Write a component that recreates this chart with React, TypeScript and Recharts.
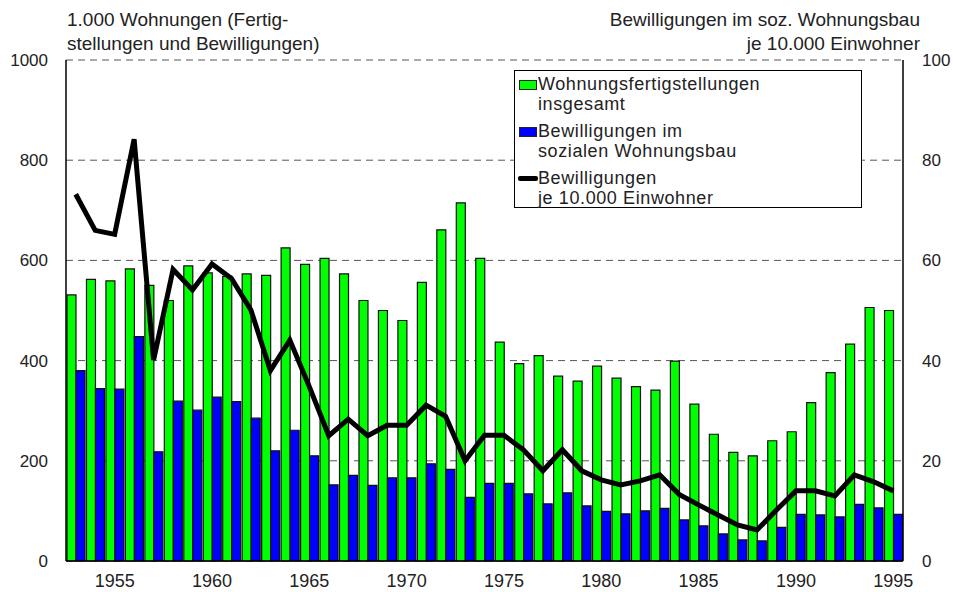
import { Bar, CartesianGrid, ComposedChart, Line, XAxis, YAxis } from "recharts";

const years = [
  1953, 1954, 1955, 1956, 1957, 1958, 1959, 1960, 1961, 1962, 1963, 1964, 1965, 1966, 1967,
  1968, 1969, 1970, 1971, 1972, 1973, 1974, 1975, 1976, 1977, 1978, 1979, 1980, 1981, 1982,
  1983, 1984, 1985, 1986, 1987, 1988, 1989, 1990, 1991, 1992, 1993, 1994, 1995,
];

// 1.000 Wohnungen
const fertigstellungen = [
  531, 562, 559, 583, 550, 520, 589, 575, 568, 573, 570, 625, 592, 604, 573,
  520, 500, 480, 556, 661, 715, 604, 437, 394, 410, 369, 359, 389, 365, 348,
  341, 399, 313, 253, 217, 210, 240, 258, 316, 376, 433, 506, 500,
];

const bewilligungen = [
  380, 344, 343, 448, 218, 319, 301, 327, 318, 285, 220, 261, 210, 152, 171,
  151, 166, 166, 194, 183, 127, 155, 155, 134, 114, 136, 110, 99, 94, 100,
  105, 82, 70, 54, 42, 40, 67, 93, 92, 88, 113, 106, 93,
];

// je 10.000 Einwohner
const jeEinwohner = [
  73.2, 66, 65.2, 84.2, 40.1, 58.2, 54.1, 59.3, 56.4, 50.1, 38, 44.1, 34.8, 25, 28.3,
  25, 27.1, 27.1, 31.1, 28.9, 20, 25.1, 25.1, 22.2, 18, 22.2, 18, 16.2, 15.2, 16,
  17.2, 13.3, 11.2, 9.2, 7.2, 6.2, 10.2, 14, 14, 13, 17.2, 15.8, 14,
];

const yearTicks = [1955, 1960, 1965, 1970, 1975, 1980, 1985, 1990, 1995];
const leftTicks = [0, 200, 400, 600, 800, 1000];
const rightTicks = [0, 20, 40, 60, 80, 100];

const legendItems = [
  { kind: "bar", color: "#00ff00", lines: ["Wohnungsfertigstellungen", "insgesamt"] },
  { kind: "bar", color: "#0000ff", lines: ["Bewilligungen im", "sozialen Wohnungsbau"] },
  { kind: "line", color: "#000000", lines: ["Bewilligungen", "je 10.000 Einwohner"] },
];

const data = years.map((year, i) => ({
  year,
  fertig: fertigstellungen[i],
  sozial: bewilligungen[i],
  rate: jeEinwohner[i],
}));

const font = '"Liberation Sans", Arial, Helvetica, sans-serif';
const tickStyle = { fill: "#222", fontSize: 17, fontFamily: font };

export default function App() {
  return (
    <div
      style={{
        position: "absolute",
        left: 0,
        top: 0,
        width: 953,
        height: 592,
        background: "#fff",
        fontFamily: font,
        color: "#222",
      }}
    >
      <ComposedChart
        width={953}
        height={592}
        data={data}
        margin={{ top: 60, right: 0, bottom: 0, left: 0 }}
        barCategoryGap={1}
        barGap={0}
      >
        <CartesianGrid
          yAxisId="left"
          vertical={false}
          stroke="#555"
          strokeDasharray="7 5"
        />
        <XAxis
          dataKey="year"
          ticks={yearTicks}
          interval={0}
          height={31}
          tickLine={false}
          tickSize={0}
          tickMargin={13}
          axisLine={{ stroke: "#000", strokeWidth: 1.5 }}
          tick={{ ...tickStyle, fontSize: 18 }}
        />
        <XAxis
          xAxisId="top"
          orientation="top"
          dataKey="year"
          height={0}
          tick={false}
          tickLine={false}
          axisLine={{ stroke: "#000", strokeWidth: 1.5 }}
        />
        <YAxis
          yAxisId="left"
          domain={[0, 1000]}
          ticks={leftTicks}
          width={66}
          tickLine={false}
          tickSize={0}
          tickMargin={18}
          axisLine={{ stroke: "#000", strokeWidth: 1.5 }}
          tick={tickStyle}
        />
        <YAxis
          yAxisId="right"
          orientation="right"
          domain={[0, 100]}
          ticks={rightTicks}
          width={50}
          tickLine={false}
          tickSize={0}
          tickMargin={19}
          axisLine={{ stroke: "#000", strokeWidth: 1.5 }}
          tick={tickStyle}
        />
        <Bar
          yAxisId="left"
          dataKey="fertig"
          fill="#00ff00"
          stroke="#111"
          strokeWidth={1.2}
          isAnimationActive={false}
        />
        <Bar
          yAxisId="left"
          dataKey="sozial"
          fill="#0000ff"
          stroke="#111"
          strokeWidth={1.2}
          isAnimationActive={false}
        />
        <Line
          yAxisId="right"
          type="linear"
          dataKey="rate"
          stroke="#000"
          strokeWidth={5}
          dot={false}
          activeDot={false}
          isAnimationActive={false}
        />
      </ComposedChart>

      <div
        style={{
          position: "absolute",
          left: 67,
          top: 8,
          fontSize: 19,
          lineHeight: "24px",
        }}
      >
        1.000 Wohnungen (Fertig-
        <br />
        stellungen und Bewilligungen)
      </div>
      <div
        style={{
          position: "absolute",
          right: 33,
          top: 8,
          fontSize: 19,
          lineHeight: "24px",
          textAlign: "right",
        }}
      >
        Bewilligungen im soz. Wohnungsbau
        <br />
        je 10.000 Einwohner
      </div>

      <div
        style={{
          position: "absolute",
          left: 514,
          top: 70,
          width: 348,
          height: 138,
          boxSizing: "border-box",
          border: "1.5px solid #000",
          background: "#fff",
          padding: "3px 0 0 3px",
          fontSize: 18,
          lineHeight: "20px",
          letterSpacing: 0.6,
        }}
      >
        {legendItems.map((item, i) => (
          <div key={i} style={{ display: "flex", marginBottom: 7 }}>
            <div style={{ width: 20, flex: "none", position: "relative" }}>
              {item.kind === "bar" ? (
                <div
                  style={{
                    position: "absolute",
                    left: 1,
                    top: 6,
                    width: 16,
                    height: 8,
                    background: item.color,
                    border: "1.5px solid #222",
                  }}
                />
              ) : (
                <div
                  style={{
                    position: "absolute",
                    left: 0,
                    top: 8,
                    width: 20,
                    height: 5,
                    borderRadius: 2,
                    background: item.color,
                  }}
                />
              )}
            </div>
            <div>
              {item.lines.map((l, j) => (
                <div key={j}>{l}</div>
              ))}
            </div>
          </div>
        ))}
      </div>
    </div>
  );
}
